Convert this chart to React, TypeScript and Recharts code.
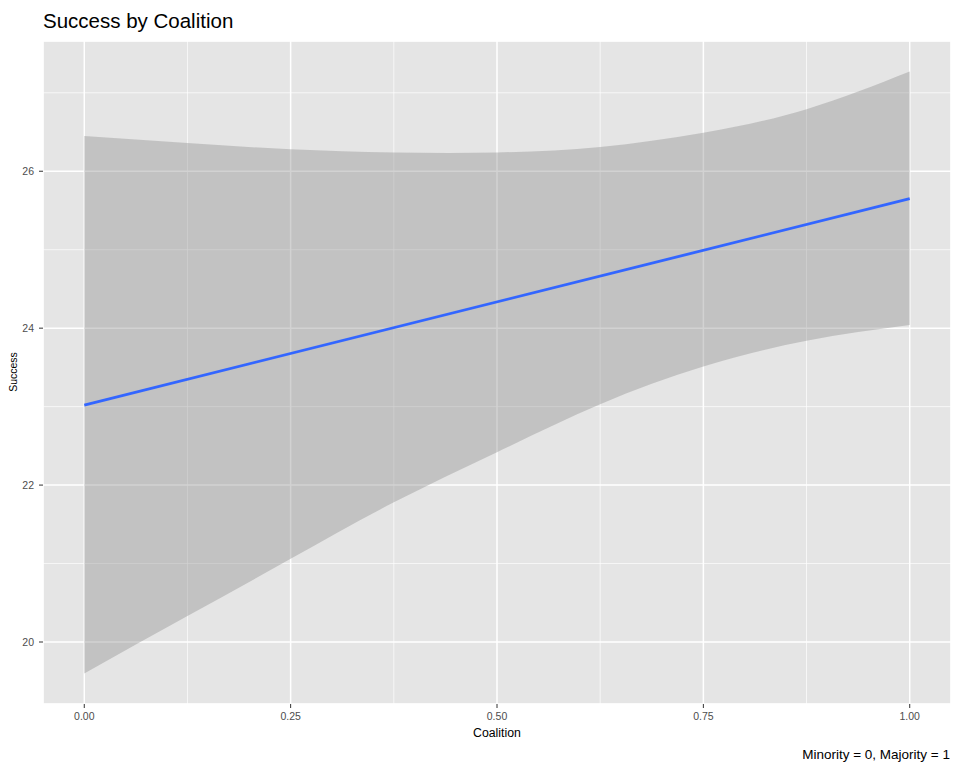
import {
  ComposedChart,
  Area,
  Line,
  XAxis,
  YAxis,
  CartesianGrid,
} from "recharts";

// Coalition (0 = minority, 1 = majority) and the fitted band around the linear fit
const COALITION = [0, 0.125, 0.25, 0.375, 0.5, 0.625, 0.75, 0.875, 1];
const BAND_LOWER = [19.6, 20.33, 21.06, 21.78, 22.42, 23.03, 23.51, 23.84, 24.04];
const BAND_UPPER = [26.45, 26.36, 26.28, 26.24, 26.24, 26.31, 26.49, 26.79, 27.27];

// Fitted line end points
const FIT_X = [0, 1];
const FIT_Y = [23.02, 25.65];

const X_TICKS = [0, 0.25, 0.5, 0.75, 1];
const X_MINOR = [0.125, 0.375, 0.625, 0.875];
const Y_TICKS = [20, 22, 24, 26];
const Y_MINOR = [21, 23, 25, 27];

const X_DOMAIN: [number, number] = [-0.05, 1.05];
const Y_DOMAIN: [number, number] = [19.21, 27.66];

const W = 955;
const H = 765;
const FONT = '"Liberation Sans", Arial, Helvetica, sans-serif';

const rows = COALITION.map((x, i) => {
  const fi = FIT_X.indexOf(x);
  return {
    x,
    band: [BAND_LOWER[i], BAND_UPPER[i]],
    fit: fi >= 0 ? FIT_Y[fi] : null,
  };
});

const fmtX = (v: number) => v.toFixed(2);

export default function App() {
  const tickStyle = { fontSize: 10.5, fill: "#4D4D4D", fontFamily: FONT };
  return (
    <div style={{ position: "absolute", left: 0, top: 0, width: W, height: H, background: "#fff" }}>
      <ComposedChart
        width={W}
        height={H}
        data={rows}
        margin={{ top: 41, right: 4, bottom: 0, left: 0 }}
      >
        <CartesianGrid
          xAxisId="minor"
          yAxisId="minor"
          fill="#E5E5E5"
          stroke="#FFFFFF"
          strokeWidth={0.7}
        />
        <CartesianGrid stroke="#FFFFFF" strokeWidth={1.5} />
        <XAxis
          dataKey="x"
          type="number"
          domain={X_DOMAIN}
          ticks={X_TICKS}
          allowDataOverflow
          tickFormatter={fmtX}
          height={61}
          axisLine={false}
          tickSize={4}
          tickMargin={5}
          tickLine={{ stroke: "#333333" }}
          tick={tickStyle}
        />
        <YAxis
          type="number"
          domain={Y_DOMAIN}
          ticks={Y_TICKS}
          allowDataOverflow
          width={43}
          axisLine={false}
          tickSize={4}
          tickMargin={5}
          tickLine={{ stroke: "#333333" }}
          tick={tickStyle}
        />
        <XAxis
          xAxisId="minor"
          dataKey="x"
          type="number"
          domain={X_DOMAIN}
          ticks={X_MINOR}
          allowDataOverflow
          hide
        />
        <YAxis
          yAxisId="minor"
          type="number"
          domain={Y_DOMAIN}
          ticks={Y_MINOR}
          allowDataOverflow
          hide
        />
        <Area
          dataKey="band"
          type="natural"
          stroke="none"
          fill="#8E8E8E"
          fillOpacity={0.4}
          isAnimationActive={false}
          activeDot={false}
        />
        <Line
          dataKey="fit"
          type="linear"
          stroke="#3366FF"
          strokeWidth={2.8}
          dot={false}
          activeDot={false}
          connectNulls
          isAnimationActive={false}
        />
      </ComposedChart>
      <svg
        width={W}
        height={H}
        style={{ position: "absolute", left: 0, top: 0, pointerEvents: "none" }}
        fontFamily={FONT}
      >
        <text x={43} y={28} fontSize={20.5} fill="#000">
          Success by Coalition
        </text>
        <text x={497} y={737} fontSize={12.3} fill="#000" textAnchor="middle">
          Coalition
        </text>
        <text
          x={17}
          y={372}
          fontSize={10.5}
          fill="#000"
          textAnchor="middle"
          transform="rotate(-90 17 372)"
        >
          Success
        </text>
        <text x={950} y={759} fontSize={13.5} fill="#000" textAnchor="end">
          Minority = 0, Majority = 1
        </text>
      </svg>
    </div>
  );
}
